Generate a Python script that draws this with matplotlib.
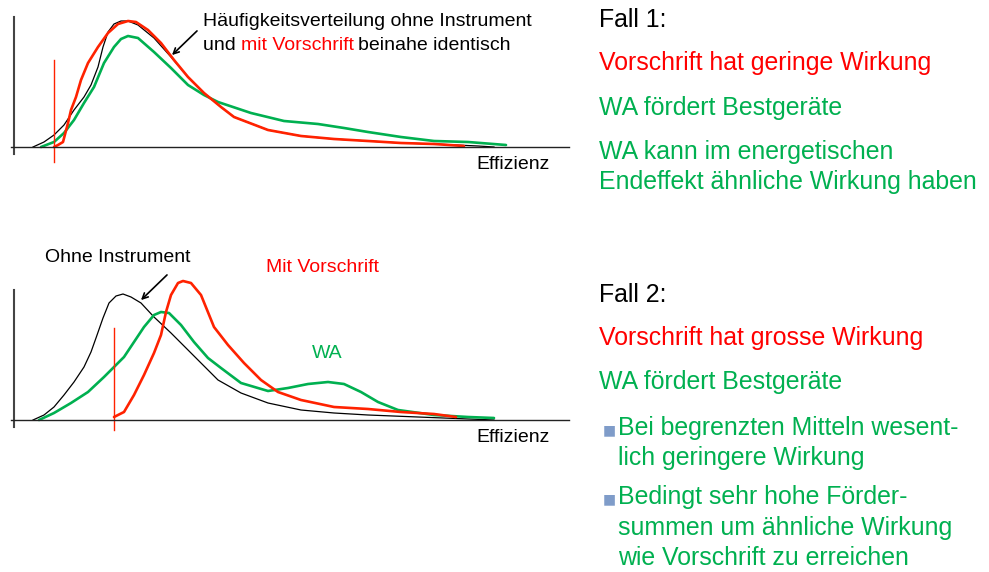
import matplotlib
matplotlib.use("Agg")
import matplotlib.pyplot as plt

plt.rcParams['font.family'] = ['Liberation Sans', 'DejaVu Sans']

W, H = 989, 572
RED_LINE = '#ff2200'
RED_TXT = '#ff0000'
GREEN = '#00b050'
BULLET = '#7f9cc9'

# ---------------- data (efficiency, frequency) ----------------
# Case 1
c1_black_x = [19, 30, 40, 50, 60, 70, 77, 84, 89, 94, 100, 107, 114, 124, 140, 157, 174, 190, 207,
              220, 254, 287, 320, 354, 387, 420, 464, 480]
c1_black_y = [0, 5, 12, 22, 37, 50, 62, 80, 100, 115, 123, 126, 126, 122, 109, 90, 70, 54, 40,
              30, 17, 11, 8, 6, 4, 3, 1, 0]
c1_red_x = [40, 44, 49, 54, 57, 62, 67, 74, 84, 94, 104, 114, 122, 134, 147, 160, 174, 190, 207,
            220, 254, 287, 320, 354, 387, 420, 450]
c1_red_y = [0, 2, 5, 24, 37, 50, 67, 84, 100, 114, 123, 126, 125, 117, 104, 87, 70, 54, 40,
            30, 17, 11, 8, 6, 4, 3, 1]
c1_green_x = [27, 40, 50, 60, 70, 80, 90, 100, 107, 114, 124, 140, 157, 174, 190, 204, 237, 270,
              304, 330, 354, 387, 420, 454, 492]
c1_green_y = [0, 5, 14, 27, 44, 60, 84, 100, 108, 111, 109, 95, 79, 62, 52, 45, 34, 26,
              23, 19, 15, 10, 6, 5, 2]
c1_cut_x = 40
c1_cut_y = [87, -15]

# Case 2
c2_black_x = [19, 30, 40, 50, 60, 70, 77, 82, 89, 95, 102, 109, 117, 127, 140, 157, 174, 187, 204,
              227, 254, 287, 320, 354, 404, 480]
c2_black_y = [0, 5, 13, 25, 38, 53, 68, 82, 102, 117, 124, 126, 123, 117, 103, 87, 70, 57, 40,
              27, 17, 10, 7, 5, 3, 0]
c2_red_x = [100, 110, 120, 130, 140, 147, 152, 157, 164, 169, 177, 187, 200, 214, 230, 247, 264,
            287, 320, 354, 387, 420, 442]
c2_red_y = [3, 8, 25, 45, 67, 85, 108, 125, 137, 139, 137, 125, 93, 75, 57, 40, 28,
            20, 13, 11, 8, 6, 3]
c2_green_x = [25, 40, 57, 74, 90, 100, 110, 120, 130, 140, 147, 155, 167, 180, 194, 207, 227, 254,
              274, 294, 314, 330, 347, 364, 384, 420, 454, 480]
c2_green_y = [0, 7, 17, 28, 43, 53, 63, 78, 93, 105, 108, 107, 95, 78, 62, 52, 37, 29,
              32, 36, 38, 36, 28, 18, 10, 5, 3, 2]
c2_cut_x = 100
c2_cut_y = [92, -10]

fall1 = ["Fall 1:", "Vorschrift hat geringe Wirkung", "WA fördert Bestgeräte",
         "WA kann im energetischen", "Endeffekt ähnliche Wirkung haben"]
fall2 = ["Fall 2:", "Vorschrift hat grosse Wirkung", "WA fördert Bestgeräte"]
fall2_bullets = [["Bei begrenzten Mitteln wesent-", "lich geringere Wirkung"],
                 ["Bedingt sehr hohe Förder-", "summen um ähnliche Wirkung",
                  "wie Vorschrift zu erreichen"]]

fig = plt.figure(figsize=(W / 100, H / 100), dpi=100)

AX_W = 585


def make_axes(top_px, bot_px, origin_x, base_y):
    ax = fig.add_axes([0, 1 - bot_px / H, AX_W / W, (bot_px - top_px) / H])
    ax.set_xlim(-origin_x, AX_W - origin_x)
    ax.set_ylim(base_y - bot_px, base_y - top_px)
    ax.patch.set_alpha(0)
    for s in ['top', 'right']:
        ax.spines[s].set_visible(False)
    ax.spines['left'].set_position(('data', 0))
    ax.spines['bottom'].set_position(('data', 0))
    ax.spines['left'].set_color('#444444')
    ax.spines['bottom'].set_color('#222222')
    ax.spines['left'].set_linewidth(1.5)
    ax.spines['bottom'].set_linewidth(1.0)
    ax.set_xticks([])
    ax.set_yticks([])
    return ax


FS_SMALL = 14
FS_BIG = 17.9

ax1 = make_axes(0, 200, 14, 147)
ax1.spines['left'].set_bounds(-7, 130)
ax1.spines['bottom'].set_bounds(-3, 555)
ax1.plot(c1_green_x, c1_green_y, color=GREEN, lw=1.9, solid_joinstyle='round', solid_capstyle='round')
ax1.plot(c1_black_x, c1_black_y, color='black', lw=0.9, solid_joinstyle='round')
ax1.plot(c1_red_x, c1_red_y, color=RED_LINE, lw=1.9, solid_joinstyle='round', solid_capstyle='round')
ax1.plot([c1_cut_x, c1_cut_x], c1_cut_y, color=RED_LINE, lw=1.0)
ax1.text(536, -18, "Effizienz", ha='right', va='center', fontsize=FS_SMALL)
ax1.annotate("", xy=(156, 90), xytext=(185, 118),
             arrowprops=dict(arrowstyle='->', color='black', lw=1.2))
ax1.text(189, 125, "Häufigkeitsverteilung ohne Instrument", ha='left', va='center', fontsize=FS_SMALL)
fig.canvas.draw()
r = fig.canvas.get_renderer()
inv = ax1.transData.inverted()
pa = ax1.text(189, 102, "und ", ha='left', va='center', fontsize=FS_SMALL)
xb = inv.transform((pa.get_window_extent(r).x1, 0))[0]
pb = ax1.text(xb, 102, "mit Vorschrift", ha='left', va='center', fontsize=FS_SMALL, color=RED_TXT)
xc = inv.transform((pb.get_window_extent(r).x1 + 4, 0))[0]
ax1.text(xc, 102, "beinahe identisch", ha='left', va='center', fontsize=FS_SMALL)

ax2 = make_axes(240, 450, 14, 420)
ax2.spines['left'].set_bounds(-7, 130)
ax2.spines['bottom'].set_bounds(-3, 555)
ax2.plot(c2_black_x, c2_black_y, color='black', lw=0.9, solid_joinstyle='round')
ax2.plot(c2_green_x, c2_green_y, color=GREEN, lw=1.9, solid_joinstyle='round', solid_capstyle='round')
ax2.plot(c2_red_x, c2_red_y, color=RED_LINE, lw=1.9, solid_joinstyle='round', solid_capstyle='round')
ax2.plot([c2_cut_x, c2_cut_x], c2_cut_y, color=RED_LINE, lw=1.0)
ax2.text(536, -18, "Effizienz", ha='right', va='center', fontsize=FS_SMALL)
ax2.annotate("", xy=(125, 118), xytext=(155, 147),
             arrowprops=dict(arrowstyle='->', color='black', lw=1.2))
ax2.text(104, 162, "Ohne Instrument", ha='center', va='center', fontsize=FS_SMALL)
ax2.text(308, 152, "Mit Vorschrift", ha='center', va='center', fontsize=FS_SMALL, color=RED_TXT)
ax2.text(313, 67, "WA", ha='center', va='center', fontsize=FS_SMALL, color=GREEN)


def ftext(x, y, s, color, size=FS_BIG):
    fig.text(x / W, 1 - y / H, s, ha='left', va='center', fontsize=size, color=color)


cols1 = ['black', RED_TXT, GREEN, GREEN, GREEN]
ys1 = [20, 63, 108, 152, 182]
for s, c, y in zip(fall1, cols1, ys1):
    ftext(599, y, s, c)

cols2 = ['black', RED_TXT, GREEN]
ys2 = [295, 338, 382]
for s, c, y in zip(fall2, cols2, ys2):
    ftext(599, y, s, c)

bullet_ys = [[428, 458], [497, 528, 558]]
for lines, ys in zip(fall2_bullets, bullet_ys):
    fig.text(603 / W, 1 - (ys[0] + 2) / H, "■", ha='left', va='center', fontsize=10,
             color=BULLET, family=['DejaVu Sans'])
    for s, y in zip(lines, ys):
        ftext(618, y, s, GREEN)

fig.savefig("out.png", dpi=100)
